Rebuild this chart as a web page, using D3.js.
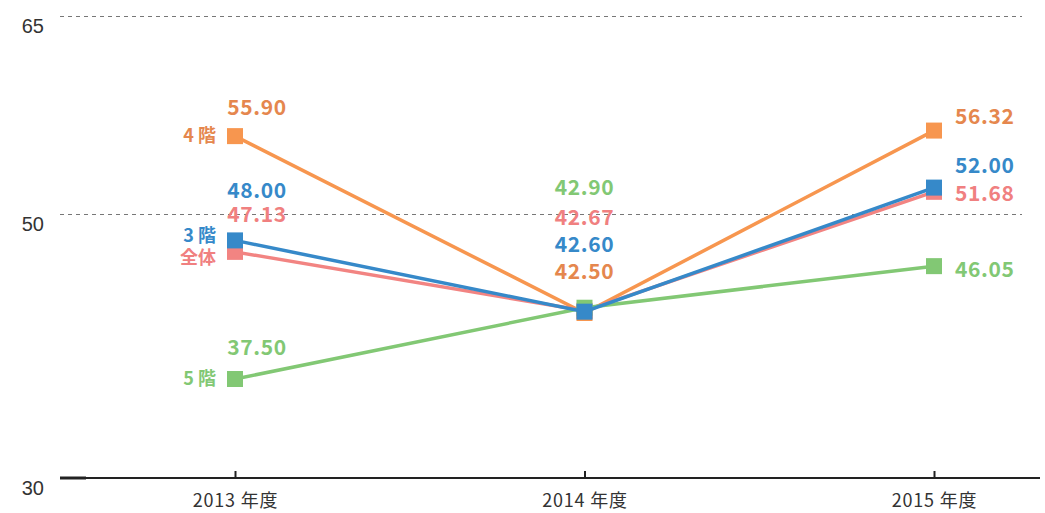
<!DOCTYPE html>
<html>
<head>
<meta charset="utf-8">
<script src="https://cdn.jsdelivr.net/npm/d3@7"></script>
<style>
  body { margin: 0; background: #fff; }
  svg { display: block; font-family: "Noto Sans CJK JP", "Noto Sans", sans-serif; }
  .grid line { stroke: #777; stroke-dasharray: 4 4; stroke-width: 1; }
  .val { font-weight: 600; font-size: 21px; letter-spacing: 0.6px; }
  .name { font-weight: 700; font-size: 18px; }
</style>
</head>
<body>
<svg id="chart" width="1045" height="513"></svg>
<script>
var years = ["2013 年度", "2014 年度", "2015 年度"];
var yTicks = [30, 50, 65];

var names = ["4 階", "全体", "5 階", "3 階"];
var floor4 = [55.90, 42.50, 56.32];
var total = [47.13, 42.67, 51.68];
var floor5 = [37.50, 42.90, 46.05];
var floor3 = [48.00, 42.60, 52.00];

var lineColors = ["#f7964f", "#f28482", "#82c874", "#3689c9"];
var textColors = ["#e5874e", "#f08080", "#82c874", "#3689c9"];

// label vertical offsets from marker (px), per series per year
var labelDy = [
  [-28, -41, -14],
  [-37, -93, 2],
  [-31, -120, 4],
  [-50, -67, -22]
];

var series = [floor4, total, floor5, floor3];

var svg = d3.select("#chart");

var x = d3.scalePoint()
    .domain(years)
    .range([235, 934]);

var y = d3.scaleLinear()
    .domain([30, 65])
    .range([478, 16]);

// grid
svg.append("g")
    .attr("class", "grid")
  .selectAll("line")
  .data(yTicks.filter(function(d) { return d !== 30; }))
  .enter().append("line")
    .attr("x1", 60)
    .attr("x2", 1022)
    .attr("y1", function(d) { return y(d) + 0.5; })
    .attr("y2", function(d) { return y(d) + 0.5; });

// y labels
svg.append("g")
  .selectAll("text")
  .data(yTicks)
  .enter().append("text")
    .attr("x", 44)
    .attr("y", function(d) { return y(d) + 17; })
    .attr("text-anchor", "end")
    .style("font-family", "\"Liberation Sans\", Arial, sans-serif")
    .style("font-size", "20px")
    .style("fill", "#333")
    .text(function(d) { return d; });

// x axis
var xAxis = svg.append("g")
    .attr("transform", "translate(0," + y(30) + ")")
    .call(d3.axisBottom(x).tickSize(-7).tickPadding(16));
xAxis.select(".domain").remove();
xAxis.append("line")
    .attr("x1", 60).attr("x2", 1040)
    .attr("stroke", "#222").attr("stroke-width", 2);
xAxis.append("line")
    .attr("x1", 60).attr("x2", 86)
    .attr("stroke", "#222").attr("stroke-width", 3);
xAxis.selectAll(".tick line").attr("stroke", "#222").attr("stroke-width", 2);
xAxis.selectAll(".tick text")
    .style("font-family", "\"Noto Sans CJK JP\", sans-serif")
    .style("font-size", "18px")
    .style("letter-spacing", "0.8px")
    .style("fill", "#333");

var line = d3.line()
    .x(function(d, i) { return x(years[i]); })
    .y(function(d) { return y(d); });

series.forEach(function(vals, s) {
  var g = svg.append("g");
  g.append("path")
      .attr("d", line(vals))
      .attr("fill", "none")
      .attr("stroke", lineColors[s])
      .attr("stroke-width", 3.5);
  g.selectAll("rect")
    .data(vals)
    .enter().append("rect")
      .attr("x", function(d, i) { return x(years[i]) - 8; })
      .attr("y", function(d) { return y(d) - 8; })
      .attr("width", 16)
      .attr("height", 16)
      .attr("fill", lineColors[s]);
});

// value labels
series.forEach(function(vals, s) {
  svg.append("g").selectAll("text")
    .data(vals)
    .enter().append("text")
      .attr("class", "val")
      .attr("x", function(d, i) { return i === 2 ? x(years[i]) + 21 : x(years[i]) + (i === 0 ? 22 : 0); })
      .attr("y", function(d, i) { return y(d) + labelDy[s][i]; })
      .attr("dy", "0.35em")
      .attr("text-anchor", function(d, i) { return i === 2 ? "start" : "middle"; })
      .style("fill", textColors[s])
      .text(function(d) { return d.toFixed(2); });
});

// series names
var nameDy = [0, 6, 0, -5];
svg.append("g").selectAll("text")
  .data(names)
  .enter().append("text")
    .attr("class", "name")
    .attr("x", 216)
    .attr("y", function(d, i) { return y(series[i][0]) + nameDy[i]; })
    .attr("dy", "0.35em")
    .attr("text-anchor", "end")
    .style("fill", function(d, i) { return textColors[i]; })
    .text(function(d) { return d; });
</script>
</body>
</html>
